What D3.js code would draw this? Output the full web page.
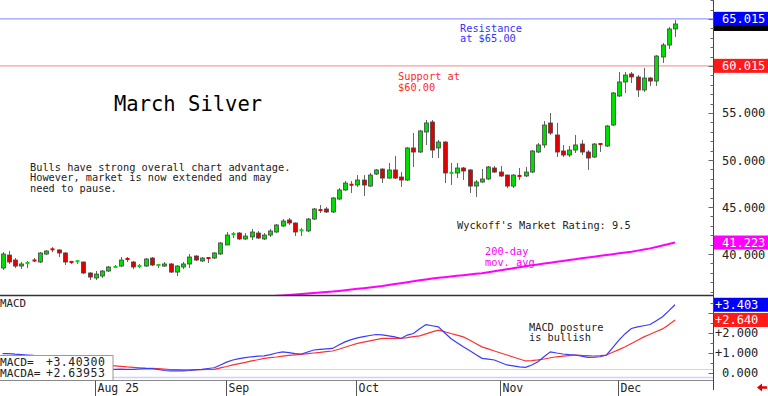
<!DOCTYPE html>
<html><head><meta charset="utf-8">
<script src="https://cdn.jsdelivr.net/npm/d3@7"></script>
<style>
html,body{margin:0;padding:0;background:#fff;}
svg{display:block;}
text{font-family:"DejaVu Sans Mono",monospace;}
</style></head><body><div id="chart"></div>
<script>
// ---------- DATA ----------
const startDay = "2025-07-11", endDay = "2025-12-12";
const holidays = ["2025-09-01", "2025-11-27"];
const monthLabels = ["Aug 25", "Sep", "Oct", "Nov", "Dec"];

const open = [38.51,39.89,39.36,38.72,38.94,39.36,39.15,40.0,40.53,40.43,
 40.11,39.2,39.2,39.15,37.98,37.45,37.66,38.19,38.6,38.72,
 39.5,39.15,38.62,38.72,39.57,38.8,38.72,38.94,38.08,38.62,
 38.94,39.79,39.26,39.6,39.57,40.0,40.96,42.1,42.23,41.6,
 41.81,42.23,41.6,42.02,42.34,42.98,43.62,43.3,42.5,42.45,
 43.72,44.7,44.79,44.47,45.85,46.81,47.4,47.34,47.87,47.23,
 48.51,49.04,48.08,48.94,48.19,47.87,51.28,50.85,52.98,54.04,
 51.28,51.91,48.6,48.62,49.15,48.94,47.23,47.66,47.98,49.15,
 48.72,48.4,47.23,48.33,48.3,48.72,50.85,51.6,53.94,52.66,
 50.96,50.53,51.06,51.7,50.85,50.32,51.72,51.49,53.72,56.81,
 58.3,59.15,58.83,57.45,58.72,58.4,60.96,62.23,63.94];
const close = [40.0,39.15,38.72,38.94,39.15,39.26,40.11,40.32,40.47,40.11,
 39.15,39.12,39.26,37.98,37.55,37.87,38.19,38.62,38.66,39.36,
 39.44,38.62,38.83,39.47,38.83,38.86,38.94,38.08,38.72,38.94,
 39.68,39.36,39.57,39.55,40.11,41.17,42.02,42.15,41.6,41.91,
 42.34,41.7,42.02,42.45,43.09,43.51,43.3,42.34,42.55,43.72,
 44.79,44.65,44.47,45.96,46.81,47.55,47.34,47.87,47.34,48.4,
 48.94,48.08,48.94,48.08,47.87,51.28,50.85,53.09,53.94,51.06,
 51.91,48.62,48.66,49.15,48.83,47.23,47.66,47.98,49.26,48.72,
 48.3,47.23,48.4,48.28,48.72,50.96,51.6,53.72,52.87,50.85,
 50.53,51.06,51.6,50.85,50.21,51.7,51.68,53.62,57.13,58.3,
 59.04,58.83,57.45,58.72,58.4,61.06,62.23,63.94,64.47];
const high = [40.21,40.32,39.57,39.15,39.26,39.57,40.21,40.43,40.74,40.5,
 40.2,39.26,39.36,39.2,38.08,38.19,38.3,38.72,38.83,39.68,
 39.68,39.26,38.94,39.57,39.68,38.94,39.15,39.04,38.83,39.15,
 40.0,39.85,39.68,39.62,40.21,41.28,42.34,42.34,42.34,42.23,
 42.66,42.45,42.23,42.66,43.19,43.72,43.83,43.35,42.77,43.83,
 44.89,45.21,45.0,46.06,47.02,47.77,47.77,48.4,48.4,48.62,
 49.04,49.1,49.68,50.43,48.72,51.38,52.87,53.19,54.26,54.26,
 52.13,52.0,49.68,49.68,49.26,49.04,47.87,49.04,49.36,49.36,
 49.36,48.45,48.51,49.15,49.26,51.06,51.81,54.15,55.0,53.94,
 51.6,51.49,52.66,52.13,51.06,51.81,51.81,53.72,57.23,59.36,
 59.36,59.36,59.04,59.79,58.83,61.17,62.45,64.15,64.89];
const low = [38.3,38.94,38.51,38.4,38.51,39.15,39.04,39.89,40.21,39.68,
 38.83,38.94,38.94,37.87,37.23,37.23,37.45,38.08,38.51,38.62,
 39.15,38.4,38.51,38.62,38.72,38.51,38.62,37.98,37.66,38.4,
 38.51,39.26,39.15,39.04,39.47,39.89,40.96,41.7,41.49,41.49,
 41.49,41.6,41.49,41.81,42.23,42.87,43.09,41.91,41.91,42.34,
 43.62,44.36,44.36,44.36,45.74,46.7,46.49,47.13,46.17,47.13,
 48.4,47.55,48.0,47.98,47.13,47.77,49.26,50.74,51.6,50.21,
 50.21,47.55,47.34,48.08,47.87,46.49,46.06,47.55,47.87,48.62,
 48.19,47.02,47.02,47.87,48.19,48.62,50.74,51.28,52.66,50.32,
 50.32,50.32,50.74,50.53,48.94,50.21,50.85,51.38,53.62,56.7,
 57.13,58.19,56.7,57.23,57.87,57.87,60.32,61.81,63.09];

// 200-day moving average (null where not shown)
const ma200 = [null,null,null,null,null,null,null,null,null,null,
 null,null,null,null,null,null,null,null,null,null,
 null,null,null,null,null,null,null,null,null,null,
 null,null,null,null,null,null,null,null,35.25,35.3,
 35.35,35.4,35.45,35.5,35.55,35.6,35.65,35.7,35.75,35.8,
 35.85,35.9,35.95,36.0,36.07,36.15,36.22,36.3,36.37,36.45,
 36.52,36.6,36.7,36.8,36.9,37.0,37.1,37.2,37.3,37.4,
 37.47,37.54,37.61,37.68,37.75,37.82,37.89,37.95,38.05,38.16,
 38.27,38.37,38.48,38.59,38.7,38.8,38.89,38.98,39.08,39.17,
 39.26,39.36,39.45,39.55,39.64,39.72,39.81,39.9,39.98,40.07,
 40.15,40.24,40.36,40.48,40.6,40.75,40.9,41.06,41.223];

const macd = [0.95,0.95,0.92,0.9,0.88,0.86,0.85,0.84,0.85,0.84,
 0.78,0.68,0.56,0.45,0.35,0.28,0.22,0.18,0.16,0.17,
 0.16,0.16,0.18,0.19,0.19,0.15,0.1,0.08,0.08,0.08,
 0.1,0.13,0.16,0.2,0.24,0.38,0.52,0.63,0.7,0.75,
 0.79,0.82,0.84,0.9,0.98,1.04,1.0,0.95,0.93,1.03,
 1.13,1.16,1.19,1.21,1.38,1.54,1.65,1.74,1.8,1.86,
 1.91,1.89,1.84,1.79,1.71,1.88,1.96,2.2,2.41,2.35,
 2.29,2.0,1.71,1.5,1.29,1.1,0.9,0.71,0.67,0.63,
 0.5,0.38,0.33,0.28,0.26,0.38,0.54,0.8,1.04,0.98,
 0.93,0.9,0.88,0.82,0.76,0.77,0.79,0.88,1.25,1.63,
 1.95,2.21,2.29,2.35,2.41,2.6,2.8,3.1,3.403];
const macdAvg = [0.7,0.7,0.69,0.68,0.67,0.66,0.65,0.63,0.62,0.6,
 0.57,0.54,0.5,0.47,0.43,0.4,0.37,0.35,0.33,0.31,
 0.28,0.26,0.24,0.22,0.21,0.19,0.17,0.15,0.14,0.13,
 0.13,0.14,0.14,0.15,0.16,0.23,0.3,0.38,0.45,0.51,
 0.58,0.64,0.71,0.75,0.78,0.82,0.86,0.89,0.91,0.95,
 0.98,1.01,1.05,1.08,1.17,1.27,1.37,1.46,1.53,1.59,
 1.65,1.71,1.71,1.71,1.71,1.75,1.8,1.84,1.94,2.04,
 2.13,2.05,1.96,1.88,1.79,1.63,1.46,1.29,1.19,1.08,
 0.98,0.88,0.78,0.68,0.58,0.6,0.63,0.68,0.74,0.79,
 0.82,0.85,0.88,0.86,0.85,0.83,0.85,0.88,1.02,1.15,
 1.29,1.46,1.62,1.79,1.92,2.06,2.19,2.4,2.64];

const priceTicks = [40, 45, 50, 55, 60, 65];
const macdTicks = [0, 1, 2, 3];
const resistance = 65.015, support = 60.015;
const lastClose = 64.47, lastMA = 41.223;
const lastMacd = 3.403, lastMacdAvg = 2.640;
const legendMacd = "+3.40300", legendMacdA = "+2.63953";

// ---------- LAYOUT ----------
const W = 768, H = 396;
const axisX = 713.5;
const mainTop = 0, mainBot = 295;
const macdTop = 296, macdBot = 380;

const svg = d3.select("#chart").append("svg").attr("width", W).attr("height", H);
const fmtDay = d3.utcFormat("%Y-%m-%d");
const parse = d3.utcParse("%Y-%m-%d");
const hol = new Set(holidays);
const days = d3.utcDay.range(parse(startDay), d3.utcDay.offset(parse(endDay), 1))
  .filter(d => d.getUTCDay() % 6 !== 0 && !hol.has(fmtDay(d)));
const n = days.length;

const x = d3.scaleLinear().domain([0, n - 1]).range([2.5, 675]);
const y = d3.scaleLinear().domain([35.64, 67.02]).range([mainBot, mainTop]);
const y2 = d3.scaleLinear().domain([0, 3]).range([372.5, 312.8]);

const defs = svg.append("defs");
defs.append("clipPath").attr("id", "cm").append("rect").attr("x", 0).attr("y", mainTop).attr("width", axisX).attr("height", mainBot - mainTop);
defs.append("clipPath").attr("id", "cd").append("rect").attr("x", 0).attr("y", macdTop).attr("width", axisX).attr("height", macdBot - macdTop);

// ---------- MAIN PANEL ----------
const gm = svg.append("g").attr("clip-path", "url(#cm)");
gm.append("line").attr("x1", 0).attr("x2", axisX).attr("y1", y(resistance)).attr("y2", y(resistance)).attr("stroke", "#9a9aff").attr("stroke-width", 1.2);
gm.append("line").attr("x1", 0).attr("x2", axisX).attr("y1", y(support)).attr("y2", y(support)).attr("stroke", "#ff9a9a").attr("stroke-width", 1.2);

const idx = d3.range(n);
const crisp = v => Math.round(v) + 0.5;
gm.selectAll("line.wick").data(idx).join("line").attr("class", "wick")
  .attr("x1", i => crisp(x(i))).attr("x2", i => crisp(x(i)))
  .attr("y1", i => y(high[i])).attr("y2", i => y(low[i]))
  .attr("stroke", "#666").attr("stroke-width", 1);
gm.selectAll("rect.body").data(idx).join("rect").attr("class", "body")
  .attr("x", i => Math.round(x(i)) - 1.5)
  .attr("width", 4)
  .attr("y", i => {
    const a = y(open[i]), b = y(close[i]);
    const h = Math.abs(a - b);
    return h < 2 ? (a + b) / 2 - 1 : Math.min(a, b);
  })
  .attr("height", i => Math.max(2, Math.abs(y(open[i]) - y(close[i]))))
  .attr("fill", i => close[i] >= open[i] ? "#00dd00" : "#e00000")
  .attr("stroke", i => Math.abs(y(open[i]) - y(close[i])) < 2 ? "none" : "#444")
  .attr("stroke-width", 0.8);

const maLine = d3.line().defined(d => d != null).x((d, i) => x(i)).y(d => y(d));
gm.append("path").attr("d", maLine(ma200)).attr("fill", "none").attr("stroke", "#ff00ff").attr("stroke-width", 2);

// annotations
svg.append("text").attr("x", 114).attr("y", 111).attr("font-size", 20.5).attr("fill", "#000").text("March Silver");
const bulls = ["Bulls have strong overall chart advantage.", "However, market is now extended and may", "need to pause."];
bulls.forEach((t, k) => svg.append("text").attr("x", 30).attr("y", 170.5 + k * 10.6).attr("font-size", 10.3).attr("fill", "#222").text(t));
["Resistance", "at $65.00"].forEach((t, k) => svg.append("text").attr("x", 460).attr("y", 31.5 + k * 10.6).attr("font-size", 10.3).attr("fill", "#3434ff").text(t));
["Support at", "$60.00"].forEach((t, k) => svg.append("text").attr("x", 398).attr("y", 80 + k * 10.6).attr("font-size", 10.3).attr("fill", "#ff2a2a").text(t));
svg.append("text").attr("x", 457).attr("y", 228.5).attr("font-size", 10.3).attr("fill", "#222").text("Wyckoff's Market Rating: 9.5");
["200-day", "mov. avg"].forEach((t, k) => svg.append("text").attr("x", 485).attr("y", 255 + k * 10.6).attr("font-size", 10.3).attr("fill", "#ff00ff").text(t));

// panel separator
svg.append("line").attr("x1", 0).attr("x2", axisX).attr("y1", 295.5).attr("y2", 295.5).attr("stroke", "#333").attr("stroke-width", 1.5);

// ---------- MACD PANEL ----------
const gd = svg.append("g").attr("clip-path", "url(#cd)");
gd.append("line").attr("x1", 0).attr("x2", axisX).attr("y1", 369.5).attr("y2", 369.5).attr("stroke", "#ffc4c4").attr("stroke-width", 1);
gd.append("line").attr("x1", 0).attr("x2", axisX).attr("y1", 377.5).attr("y2", 377.5).attr("stroke", "#d0d0ff").attr("stroke-width", 1.5);
const mLine = d3.line().x((d, i) => x(i)).y(d => y2(d));
gd.append("path").attr("d", mLine(macdAvg)).attr("fill", "none").attr("stroke", "#ff3030").attr("stroke-width", 1.2);
gd.append("path").attr("d", mLine(macd)).attr("fill", "none").attr("stroke", "#3a3aff").attr("stroke-width", 1.2);

svg.append("text").attr("x", 0).attr("y", 307).attr("font-size", 10.8).attr("fill", "#222").text("MACD");
["MACD posture", " is bullish"].forEach((t, k) => svg.append("text").attr("x", 529).attr("y", 330.5 + k * 10.3).attr("font-size", 10.3).attr("fill", "#222").text(t));

// legend box
svg.append("rect").attr("x", -1).attr("y", 355.5).attr("width", 114).attr("height", 25).attr("fill", "#fff").attr("stroke", "#999");
[["MACD=", legendMacd], ["MACDA=", legendMacdA]].forEach((r, k) => {
  svg.append("text").attr("x", 0).attr("y", 366 + k * 11.3).attr("font-size", 11.2).attr("fill", "#222").text(r[0]);
  svg.append("text").attr("x", 46).attr("y", 366 + k * 11.3).attr("font-size", 11.5).attr("letter-spacing", 0.5).attr("fill", "#222").text(r[1]);
});

// ---------- DATE AXIS ----------
svg.append("line").attr("x1", 0).attr("x2", axisX).attr("y1", 380.5).attr("y2", 380.5).attr("stroke", "#888");
const monthStarts = idx.filter(i => i > 0 && days[i].getUTCMonth() !== days[i - 1].getUTCMonth());
monthStarts.forEach((i, k) => {
  const xx = crisp(x(i)) - 1;
  svg.append("line").attr("x1", xx).attr("x2", xx).attr("y1", 380.5).attr("y2", 396).attr("stroke", "#555");
  svg.append("text").attr("x", xx + 2).attr("y", 391.5).attr("font-size", 11.5).attr("fill", "#222").text(monthLabels[k]);
});

// ---------- RIGHT AXIS ----------
svg.append("line").attr("x1", axisX).attr("x2", axisX).attr("y1", 0).attr("y2", 390).attr("stroke", "#444");
d3.range(36, 68).forEach(v => {
  const yy = Math.round(y(v)) + 0.5;
  svg.append("line").attr("x1", axisX - (v % 5 === 0 ? 5 : 3)).attr("x2", axisX).attr("y1", yy).attr("y2", yy).attr("stroke", "#666");
});
d3.range(0, 3.6, 0.5).forEach(v => {
  const yy = Math.round(y2(v)) + 0.5;
  svg.append("line").attr("x1", axisX - (v % 1 === 0 ? 5 : 3)).attr("x2", axisX).attr("y1", yy).attr("y2", yy).attr("stroke", "#666");
});
const f3 = d3.format(".3f");
// tick labels that would sit under a value tag are hidden by the tag, so skip them
const priceTags = [resistance, support, lastClose, lastMA];
const macdTags = [lastMacd, lastMacdAvg];
priceTicks.filter(v => priceTags.every(t => Math.abs(y(t) - y(v)) > 11))
  .forEach(v => svg.append("text").attr("x", 722).attr("y", y(v) + 4.5).attr("font-size", 12).attr("fill", "#222").text(f3(v)));
macdTicks.filter(v => macdTags.every(t => Math.abs(y2(t) - y2(v)) > 11))
  .forEach(v => svg.append("text").attr("x", v === 0 ? 722 : 715).attr("y", y2(v) + 4.5).attr("font-size", 12).attr("fill", "#222").text((v > 0 ? "+" : "") + f3(v)));

function tag(yy, color, label, tx) {
  svg.append("rect").attr("x", axisX + 0.5).attr("y", yy - 7).attr("width", W - axisX).attr("height", 14).attr("fill", color);
  if (label) svg.append("text").attr("x", tx).attr("y", yy + 4.5).attr("font-size", 12).attr("fill", "#fff").text(label);
}
tag(y(lastClose), "#000", null, 722);
tag(y(resistance), "#0000ff", f3(resistance), 722);
tag(y(support), "#ff1a1a", f3(support), 722);
tag(y(lastMA), "#ff00ff", f3(lastMA), 722);
tag(y2(lastMacd), "#0000ff", "+" + f3(lastMacd), 715);
tag(y2(lastMacdAvg), "#ff1a1a", "+" + f3(lastMacdAvg), 715);

// red arrow
svg.append("path").attr("d", "M757,387.5 L762,383.5 L762,386.3 L767,386.3 L767,388.7 L762,388.7 L762,391.5 Z").attr("fill", "#e00000");
</script></body></html>
